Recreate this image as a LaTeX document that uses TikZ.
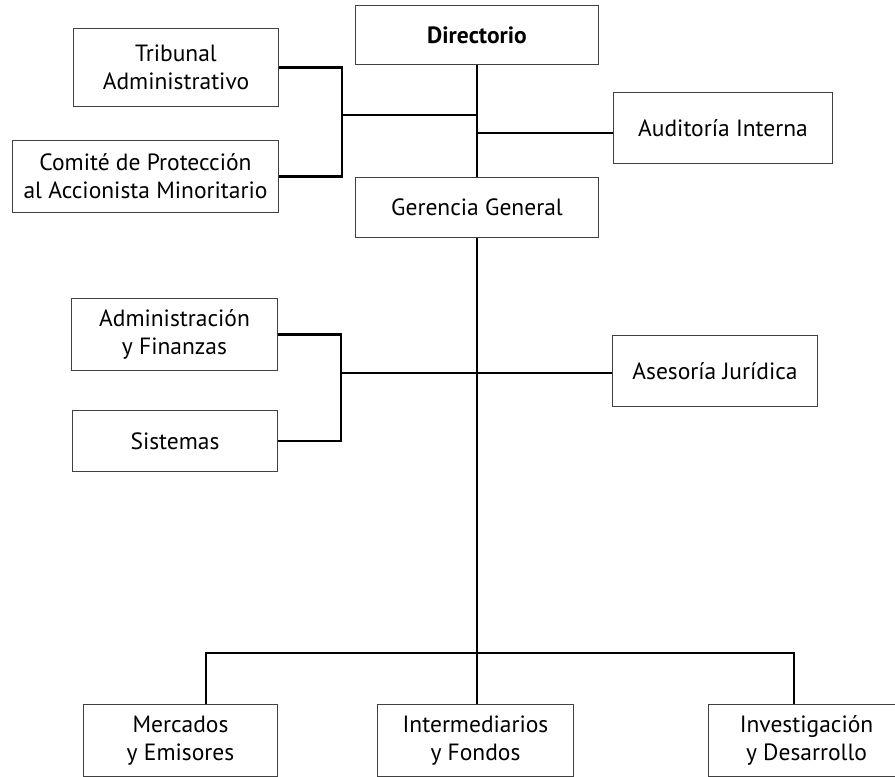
\documentclass[tikz,border=0pt]{standalone}
\usepackage{fontspec}
\setmainfont{PT Sans}
\begin{document}
\begin{tikzpicture}[x=1pt,y=-1pt,
  box/.style={draw=black!75, line width=1pt, fill=white, align=center, inner sep=0pt,
    font=\fontsize{23.5}{28}\selectfont, anchor=north west},
  link/.style={draw=black, line width=2.5pt}]
\clip (0,0) rectangle (895,777);
\fill[white] (0,0) rectangle (895,777);
% boxes: (left,top), width x height
\node[box, minimum width=243pt, minimum height=59pt, font=\fontsize{23.5}{28}\selectfont\bfseries] (dir) at (355,5) {Directorio};
\node[box, minimum width=205pt, minimum height=78pt] (trib) at (73,28) {Tribunal\\Administrativo};
\node[box, minimum width=266pt, minimum height=72pt] (com) at (12,140) {Comité de Protección\\al Accionista Minoritario};
\node[box, minimum width=219pt, minimum height=71pt] (aud) at (613,92) {Auditoría Interna};
\node[box, minimum width=243pt, minimum height=60pt] (ger) at (355,177) {Gerencia General};
\node[box, minimum width=206pt, minimum height=72pt] (adm) at (71,298) {Administración\\y Finanzas};
\node[box, minimum width=205pt, minimum height=61pt] (sis) at (72,410) {Sistemas};
\node[box, minimum width=205pt, minimum height=71pt] (ase) at (612,335) {Asesoría Jurídica};
\node[box, minimum width=194pt, minimum height=72pt] (mer) at (83,704) {Mercados\\y Emisores};
\node[box, minimum width=196pt, minimum height=72pt] (int) at (377,704) {Intermediarios\\y Fondos};
\node[box, minimum width=196pt, minimum height=72pt] (inv) at (708,704) {Investigación\\y Desarrollo};
% junction coordinates
\coordinate (jl) at (342,115);
\coordinate (ja) at (477,133);
\coordinate (jm) at (341,373);
\coordinate (bus) at (477,653);
\coordinate (bl) at (206,653);
\coordinate (br) at (794,653);
% top group
\draw[link] (dir.south -| bus) -- (ger.north -| bus);
\draw[link] (trib.east) -| (jl) |- (com.east);
\draw[link] (jl) -- (jl -| bus);
\draw[link] (ja) -- (aud.west |- ja);
% middle group
\draw[link] (ger.south -| bus) -- (bus);
\draw[link] (adm.east) -| (jm) |- (sis.east);
\draw[link] (jm) -- (jm -| ase.west);
% bottom group
\draw[link] (mer.north -| bl) -- (bl) -- (br) -- (inv.north -| br);
\draw[link] (bus) -- (int.north -| bus);
\end{tikzpicture}
\end{document}
